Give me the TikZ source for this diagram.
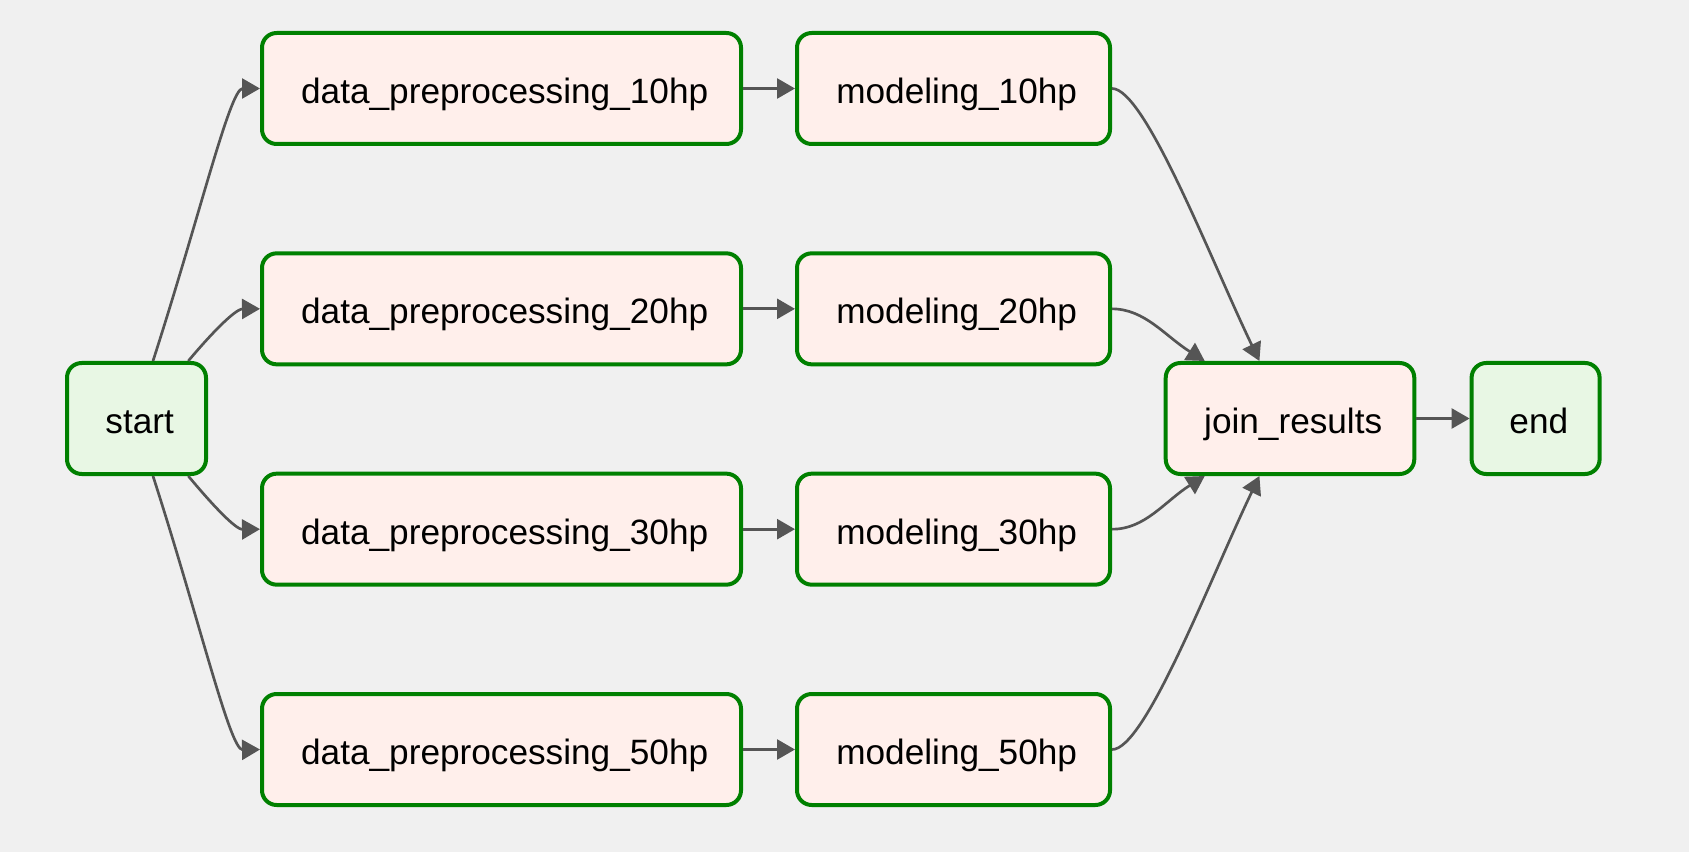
\documentclass[tikz,border=0pt]{standalone}
\usepackage{fontspec}
\setmainfont{Liberation Sans}
\usetikzlibrary{positioning,arrows.meta}
\definecolor{taskgreen}{HTML}{008000}
\definecolor{pyfill}{HTML}{FFEFEB}
\definecolor{emptyfill}{HTML}{E8F7E4}
\definecolor{edgegray}{HTML}{555555}
\definecolor{bgcol}{HTML}{F0F0F0}
\tikzset{
    task/.style={draw=taskgreen, line width=3pt, rounded corners=11pt,
        minimum height=83.25pt, inner sep=4pt, text height=28pt, text depth=5.5pt,
        font=\fontsize{26.4pt}{31pt}\selectfont,
        execute at begin node=\hspace*{4.8pt}},
    pytask/.style={task, fill=pyfill},
    emptytask/.style={task, fill=emptyfill},
    flow/.style={draw=edgegray, line width=2pt,
        -{Triangle[length=13.5pt,width=15pt]}}
}
\begin{document}
\begin{tikzpicture}[x=0.75pt,y=-0.75pt]
        \fill[bgcol] (0,0) rectangle (1689,852);
        \node[emptytask, minimum width=104.25pt] (start) at (136.5,418.5) {start};
        \node[pytask, minimum width=359.25pt] (dp10) at (501.5,88.5) {data\_preprocessing\_10hp};
        \node[pytask, minimum width=359.25pt, below=79pt of dp10] (dp20) {data\_preprocessing\_20hp};
        \node[pytask, minimum width=359.25pt, below=79pt of dp20] (dp30) {data\_preprocessing\_30hp};
        \node[pytask, minimum width=359.25pt, below=79pt of dp30] (dp50) {data\_preprocessing\_50hp};
        \node[pytask, minimum width=234.75pt, right=39pt of dp10] (mod10) {modeling\_10hp};
        \node[pytask, minimum width=234.75pt, right=39pt of dp20] (mod20) {modeling\_20hp};
        \node[pytask, minimum width=234.75pt, right=39pt of dp30] (mod30) {modeling\_30hp};
        \node[pytask, minimum width=234.75pt, right=39pt of dp50] (mod50) {modeling\_50hp};
        \node[pytask, minimum width=186.4pt] (join) at (1290,418.5) {join\_results};
        \node[emptytask, minimum width=96pt, right=40pt of join] (end) {end};

        \draw[flow] (start.74) .. controls (200,215) and (230,88.5) .. (dp10.west);
        \draw[flow] (start.48) .. controls (210,335) and (235,309) .. (dp20.west);
        \draw[flow] (start.-48) .. controls (210,502) and (235,529.5) .. (dp30.west);
        \draw[flow] (start.-74) .. controls (200,622) and (230,750) .. (dp50.west);
        \draw[flow] (dp10) -- (mod10);
        \draw[flow] (dp20) -- (mod20);
        \draw[flow] (dp30) -- (mod30);
        \draw[flow] (dp50) -- (mod50);
        \draw[flow] (mod10.east) .. controls (1145,88.5) and (1210,258) .. (join.118);
        \draw[flow] (mod20.east) .. controls (1145,309) and (1165,336) .. (join.146);
        \draw[flow] (mod30.east) .. controls (1145,529.5) and (1165,501) .. (join.-146);
        \draw[flow] (mod50.east) .. controls (1145,750) and (1210,579) .. (join.-118);
        \draw[flow] (join) -- (end);
    \end{tikzpicture}
\end{document}
